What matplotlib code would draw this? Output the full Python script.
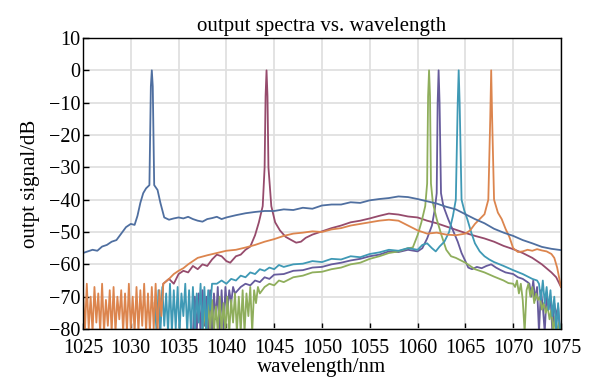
import numpy as np
import matplotlib
matplotlib.use("Agg")
import matplotlib.pyplot as plt

plt.rcParams['font.family'] = ['Liberation Serif', 'DejaVu Serif']

# ---- data (wavelength in nm, signal in dB) ----

# blue, lasing at 1032.2 nm
blue_wl = [1025, 1025.5, 1026, 1026.5, 1027, 1027.5, 1028, 1028.5, 1029, 1029.5,
           1030, 1030.4, 1030.7, 1031, 1031.3, 1031.6, 1031.95, 1032.1, 1032.2,
           1032.3, 1032.45, 1032.8, 1033.1, 1033.5, 1034, 1034.5, 1035,
           1035.5, 1036, 1036.5, 1037, 1037.5, 1038, 1038.5, 1039, 1039.5, 1040,
           1041, 1042, 1043, 1044, 1045, 1046, 1047, 1048, 1049, 1050, 1051, 1052,
           1053, 1054, 1055, 1056, 1057, 1058, 1059, 1060, 1061, 1062, 1063, 1064,
           1065, 1066, 1067, 1068, 1069, 1070, 1071, 1072, 1073, 1074, 1075]
blue_db = [-56.5, -56, -55.5, -55.8, -54.5, -54, -53, -52.5, -50.5, -48.5,
           -47.5, -47.8, -45, -41, -38, -36.5, -35.5, -5, 0,
           -5, -35.5, -37, -41, -45.5, -46.2, -45.8, -45.5,
           -45.8, -45.3, -46, -46.5, -46.8, -46, -45.7, -45.3, -46, -45.5,
           -44.8, -44.2, -43.8, -43.5, -43.5, -43, -43.2, -42.5, -42.8, -41.8, -41.5, -41.5,
           -40.8, -41, -40.2, -39.8, -39.5, -39, -39.2, -39.8, -40.5, -41.2, -42.2, -43,
           -44.5, -46, -47.3, -49, -50.2, -51.2, -52.5, -53.5, -54.6, -55.2, -55.6]

# orange, lasing at 1067.7 nm (noise floor sampled every 0.2 nm from 1025)
orange_noise = [-68, -81, -66, -80, -70, -81, -67, -78, -69, -81, -66, -81, -71, -79,
                -68, -81, -67, -81, -70, -77, -68, -81, -69, -81, -66, -80, -70, -81,
                -67, -81, -68, -79, -66, -81, -69, -81, -67, -80, -66, -81, -68, -76, -66]
orange_wl = [1034, 1034.5, 1035, 1035.5, 1036, 1036.5, 1037, 1037.5, 1038, 1039, 1040,
             1041, 1042, 1043, 1044, 1045, 1046, 1047, 1048, 1049, 1050, 1051, 1052,
             1053, 1054, 1055, 1056, 1057, 1058, 1059, 1060, 1061, 1062, 1063, 1064,
             1065, 1065.5, 1066, 1066.5, 1067, 1067.4, 1067.6, 1067.7, 1067.8, 1068.0,
             1068.4, 1068.8, 1069.2, 1069.6, 1070, 1070.5, 1071, 1071.5, 1072, 1072.5,
             1073, 1073.5, 1074, 1074.3, 1074.6, 1074.8, 1075]
orange_db = [-64.5, -63, -62, -61.2, -60, -59, -58, -57.6, -57.2, -56.5, -55.8,
             -55.5, -54.8, -54, -53, -52.2, -51.2, -50.5, -50.2, -49.8, -50, -49.2, -48.8,
             -48, -47.5, -47, -46.5, -46.2, -46.5, -48, -49.5, -50.5, -50.2, -50.8, -51,
             -50.5, -49.5, -47.5, -46, -44.5, -40, -15, 0, -15, -40,
             -44, -46, -49, -51.5, -55, -56.2, -56, -55.5, -55.8, -55.3,
             -55.7, -56, -56.8, -58, -61, -64, -67]

# maroon, lasing at 1044.2 nm
maroon_wl = [1033.0, 1033.4, 1034, 1034.5, 1035, 1035.5, 1036, 1036.5, 1037, 1037.5, 1038,
             1038.5, 1039, 1039.5, 1040, 1040.4, 1041, 1041.5, 1042, 1042.5, 1043,
             1043.4, 1043.8, 1044.0, 1044.1, 1044.2, 1044.3, 1044.4, 1044.7, 1045.1,
             1045.6, 1046.2, 1046.8, 1047.3, 1047.8, 1048.3, 1049, 1050, 1051, 1052,
             1053, 1054, 1055, 1056, 1057, 1058, 1059, 1060, 1061, 1062, 1063, 1064,
             1065, 1066, 1067, 1068, 1069, 1070, 1071, 1072, 1073, 1074, 1074.5, 1075]
maroon_db = [-81, -66, -64.5, -66, -63, -62, -62.5, -60.5, -61.5, -60, -60.5,
             -58.5, -57, -57.5, -59, -59.5, -57.5, -57, -55.5, -54.5, -51,
             -47, -42, -30, -8, 0, -8, -30, -42, -47,
             -49.5, -51.5, -52.5, -53.3, -53, -51.8, -50.8, -49.8, -48.8, -48,
             -47, -46.5, -45.8, -45, -44.3, -44.6, -45.2, -45.5, -46.5, -47.3, -48.3, -49.3,
             -50.3, -51.2, -52, -53, -54.3, -55.3, -56.5, -58, -60, -62.5, -64, -67]

# cyan, lasing at 1064.3 nm (noise every 0.2 nm from 1032.5, tail noise from 1072.7)
cyan_noise = [-72, -81, -68, -81, -67, -79, -69, -81, -66, -81, -68, -80, -67, -81,
              -69, -76, -66, -81, -68, -81, -67, -81, -69, -78, -66, -81, -67, -81,
              -68, -74, -66]
cyan_wl = [1039, 1039.5, 1040, 1040.5, 1041, 1041.5, 1042, 1042.5, 1043, 1043.5, 1044,
           1044.5, 1045, 1045.5, 1046, 1047, 1048, 1049, 1050, 1051, 1052, 1053, 1054,
           1055, 1056, 1057, 1058, 1059, 1060, 1060.5, 1061, 1061.5, 1061.9, 1062.3,
           1062.8, 1063.3, 1063.7, 1064.0, 1064.2, 1064.3, 1064.4, 1064.6, 1064.9,
           1065.2, 1065.6, 1066, 1066.5, 1067, 1067.5, 1068, 1069, 1070, 1071, 1072, 1072.5]
cyan_db = [-66, -65, -66, -64.5, -65, -63.5, -64, -62.5, -63, -61.5, -62,
           -61, -61.5, -60.2, -60.8, -60, -59.8, -59, -59.3, -58.3, -58.5, -57.5, -57.8,
           -56.8, -56.3, -55.5, -55.8, -55, -55.5, -54, -53.5, -55, -56, -54.5,
           -53, -50, -45, -40, -10, 0, -10, -40, -43.5,
           -46, -50, -53.5, -56, -57.5, -58.5, -59.3, -60.5, -61.8, -63, -64.5, -65]
cyan_tail = [-66, -71, -65, -72, -67, -74, -68, -76, -70, -81, -72, -81]

# purple, lasing at 1062.2 nm (noise every 0.2 nm from 1036.5, tail from 1071.7)
purple_noise = [-81, -70, -81, -69, -81, -68, -79, -70, -81, -68, -81, -69, -77, -67,
                -81, -68, -80, -67, -75, -68, -72, -67, -69]
purple_wl = [1041.5, 1042, 1042.5, 1043, 1043.5, 1044, 1044.5, 1045, 1046, 1047, 1048,
             1049, 1050, 1051, 1052, 1053, 1054, 1055, 1056, 1057, 1058, 1059, 1060,
             1060.5, 1061, 1061.5, 1061.8, 1062.0, 1062.1, 1062.2, 1062.3, 1062.45,
             1062.7, 1063.2, 1063.7, 1064.2, 1064.6, 1065, 1065.3, 1065.7, 1066.2,
             1066.7, 1067.2, 1067.7, 1068.2, 1068.7, 1069.2, 1070, 1070.5, 1071, 1071.5]
purple_db = [-67, -66, -66.5, -65, -65.5, -64, -64.5, -63.2, -63, -62, -61.8,
             -61, -60.8, -60, -59.5, -58.8, -58.3, -57.5, -57, -56, -56.2, -55.5, -56,
             -55, -52, -48, -43, -38, -10, 0, -10, -38,
             -42, -46, -49.5, -53, -56.5, -59, -61, -61.5, -60.8,
             -61.2, -60.5, -60, -61, -61.8, -62.5, -63, -64, -64.5, -65.5]
purple_tail = [-66, -70, -65, -71, -67, -81, -68, -73, -81, -69, -74, -70, -81, -72,
               -76, -73, -81]

# green, lasing at 1061.2 nm (noise every 0.2 nm from 1037.5, tail from 1070.2)
green_noise = [-81, -74, -81, -72, -81, -71, -81, -73, -81, -70, -81, -72, -81, -70,
               -81, -71, -78, -69, -81, -70, -81, -68, -81, -69, -76, -67, -81, -68,
               -72, -67, -69]
green_wl = [1044, 1044.5, 1045, 1045.5, 1046, 1047, 1048, 1049, 1050, 1051, 1052,
            1053, 1054, 1055, 1056, 1057, 1058, 1059, 1059.5, 1060, 1060.4, 1060.8,
            1061.0, 1061.1, 1061.2, 1061.3, 1061.4, 1061.6, 1062, 1062.5, 1063, 1063.5,
            1064, 1065, 1066, 1067, 1068, 1069, 1069.5, 1070]
green_db = [-67, -66, -66.5, -65, -65.5, -64, -63.5, -62.5, -62.3, -61.5, -61,
            -60, -59.5, -58.3, -57.5, -56.5, -56, -55, -54.8, -51, -47, -42,
            -35, -8, 0, -8, -35, -41, -46, -51, -55.5, -57.5,
            -58, -59.5, -61.5, -62.5, -63.8, -65, -65.8, -66]
green_tail = [-67, -65, -69, -66, -71, -81, -68, -66, -70, -67, -72, -69, -71,
              -70, -74, -72, -75, -73, -77, -74, -81, -76, -81, -78, -81]

colors = {
    'blue': '#4f6fa0',
    'orange': '#dc854e',
    'maroon': '#964b6c',
    'green': '#8fae5c',
    'purple': '#665b9c',
    'cyan': '#3f99b5',
}


def with_noise(start, noise, wl, db, tail_start=None, tail=None, step=0.2):
    """Join hand-read noise samples (on a fixed grid) with the smooth part."""
    x = list(start + step * np.arange(len(noise))) + list(wl)
    y = list(noise) + list(db)
    if tail is not None:
        x += list(tail_start + step * np.arange(len(tail)))
        y += list(tail)
    return x, y


fig = plt.figure(figsize=(5.91, 3.80), dpi=100)
ax = fig.add_axes([0.1404, 0.1342, 0.8088, 0.7658])

lw = 1.3
ax.plot(maroon_wl, maroon_db, color=colors['maroon'], lw=lw)
x, y = with_noise(1036.5, purple_noise, purple_wl, purple_db, 1071.7, purple_tail)
ax.plot(x, y, color=colors['purple'], lw=lw)
x, y = with_noise(1037.5, green_noise, green_wl, green_db, 1070.2, green_tail)
ax.plot(x, y, color=colors['green'], lw=lw)
x, y = with_noise(1032.5, cyan_noise, cyan_wl, cyan_db, 1072.7, cyan_tail)
ax.plot(x, y, color=colors['cyan'], lw=lw)
x, y = with_noise(1025, orange_noise, orange_wl, orange_db)
ax.plot(x, y, color=colors['orange'], lw=lw)
ax.plot(blue_wl, blue_db, color=colors['blue'], lw=lw)

ax.set_xlim(1025, 1075)
ax.set_ylim(-80, 10)
ax.set_xticks(np.arange(1025, 1076, 5))
ax.set_yticks(np.arange(-80, 11, 10))
ax.set_yticklabels(['\u221280', '\u221270', '\u221260', '\u221250', '\u221240',
                    '\u221230', '\u221220', '\u221210', '0', '10'])
ax.grid(True, color='#e0e0e0', lw=1.3)
ax.set_axisbelow(True)
ax.tick_params(direction='in', labelsize=14.5, length=4, width=1)
ax.tick_params(axis='x', pad=7.5)
ax.tick_params(axis='y', pad=2)
for s in ax.spines.values():
    s.set_linewidth(1.0)

ax.set_title('output spectra vs. wavelength', fontsize=15, pad=5)
ax.set_xlabel('wavelength/nm', fontsize=15, labelpad=0)
ax.set_ylabel('outpt signal/dB', fontsize=15, labelpad=6)

fig.savefig('out.png', dpi=100)
